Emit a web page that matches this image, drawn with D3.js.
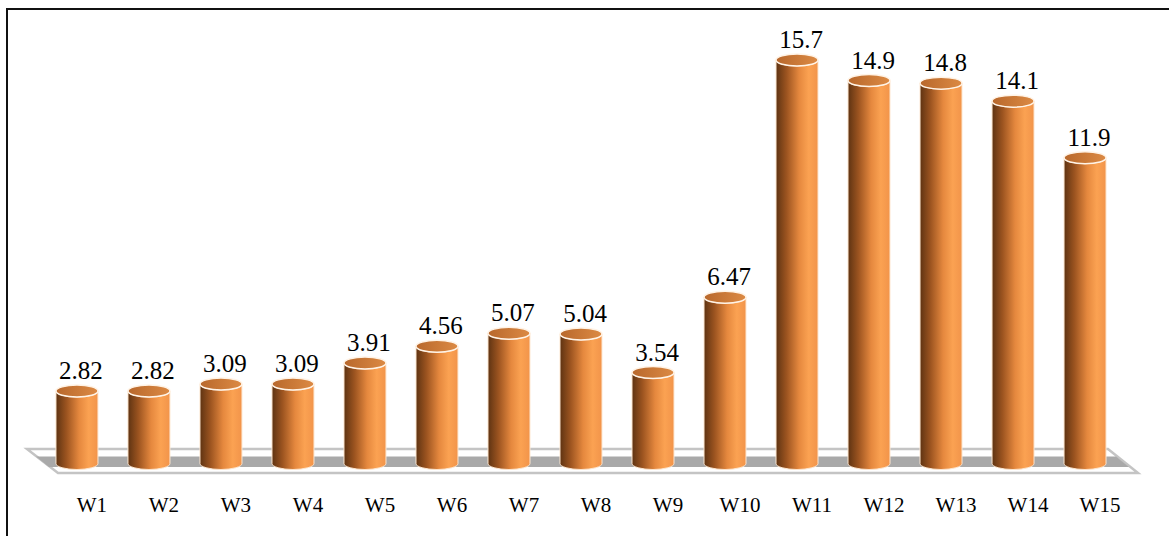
<!DOCTYPE html>
<html>
<head>
<meta charset="utf-8">
<script src="https://cdn.jsdelivr.net/npm/d3@7"></script>
<style>
  body { margin: 0; background: #fff; }
  svg { display: block; }
</style>
</head>
<body>
<script>
var width = 1169,
    height = 536;

// data
var weeks = ["W1", "W2", "W3", "W4", "W5", "W6", "W7", "W8", "W9", "W10", "W11", "W12", "W13", "W14", "W15"];
var values = [2.82, 2.82, 3.09, 3.09, 3.91, 4.56, 5.07, 5.04, 3.54, 6.47, 15.7, 14.9, 14.8, 14.1, 11.9];
var labels = ["2.82", "2.82", "3.09", "3.09", "3.91", "4.56", "5.07", "5.04", "3.54", "6.47", "15.7", "14.9", "14.8", "14.1", "11.9"];

var svg = d3.select("body").append("svg")
    .attr("width", width)
    .attr("height", height);

var x = d3.scaleBand()
    .domain(weeks)
    .range([41, 41 + 72 * 15])
    .paddingInner(0.417)
    .paddingOuter(0.208);

var y = d3.scaleLinear()
    .domain([0, 16])
    .range([463.5, 463.5 - 16 * 25.7]);

var bw = x.bandwidth(),
    rx = bw / 2,
    ry = 6;

var defs = svg.append("defs");
var grad = defs.append("linearGradient")
    .attr("id", "cyl")
    .attr("x1", "0%").attr("x2", "100%").attr("y1", "0%").attr("y2", "0%");
grad.append("stop").attr("offset", "0%").attr("stop-color", "#5e3312");
grad.append("stop").attr("offset", "25%").attr("stop-color", "#9c5420");
grad.append("stop").attr("offset", "55%").attr("stop-color", "#e5883e");
grad.append("stop").attr("offset", "78%").attr("stop-color", "#fba252");
grad.append("stop").attr("offset", "100%").attr("stop-color", "#f2944a");

var topGrad = defs.append("linearGradient")
    .attr("id", "cap")
    .attr("x1", "0%").attr("x2", "100%").attr("y1", "0%").attr("y2", "0%");
topGrad.append("stop").attr("offset", "0%").attr("stop-color", "#b8682c");
topGrad.append("stop").attr("offset", "100%").attr("stop-color", "#dc8a44");

// frame
svg.append("rect")
    .attr("x", 7)
    .attr("y", 9)
    .attr("width", width + 20)
    .attr("height", height + 20)
    .attr("fill", "none")
    .attr("stroke", "#111")
    .attr("stroke-width", 2);

// floor slab
svg.append("path")
    .attr("d", "M27 449 L1108 449 L1138 473 L58 473 Z")
    .attr("fill", "#fff")
    .attr("stroke", "#c4c4c4")
    .attr("stroke-width", 2.5);
svg.append("path")
    .attr("d", "M36 456.5 L1116 456.5 L1129 467 L49 467 Z")
    .attr("fill", "#a9a9a9");

var bars = svg.append("g")
    .attr("class", "bars")
    .selectAll("g")
    .data(weeks)
    .enter().append("g");

bars.append("path")
    .attr("d", function (d, i) {
        var left = x(d), right = x(d) + bw;
        var top = y(values[i]), bot = y(0);
        var p = "M" + left + " " + top;
        p += " L" + left + " " + bot;
        p += " A" + rx + " " + ry + " 0 0 0 " + right + " " + bot;
        p += " L" + right + " " + top;
        p += " A" + rx + " " + ry + " 0 0 1 " + left + " " + top;
        return p + " Z";
    })
    .attr("fill", "url(#cyl)")
    .attr("stroke", "#fde6cf")
    .attr("stroke-width", 1);

bars.append("ellipse")
    .attr("cx", function (d) { return x(d) + rx; })
    .attr("cy", function (d, i) { return y(values[i]); })
    .attr("rx", rx)
    .attr("ry", ry)
    .attr("fill", "url(#cap)")
    .attr("stroke", "#fff3e6")
    .attr("stroke-width", 1.5);

bars.append("text")
    .attr("x", function (d) { return x(d) + rx + 4; })
    .attr("y", function (d, i) { return y(values[i]) - 12; })
    .attr("text-anchor", "middle")
    .attr("font-family", "'Liberation Serif', 'Times New Roman', serif")
    .attr("font-size", 25)
    .attr("fill", "#000")
    .text(function (d, i) { return labels[i]; });

// category labels
svg.append("g")
    .selectAll("text")
    .data(weeks)
    .enter().append("text")
    .attr("x", function (d) { return x(d) + rx + 15; })
    .attr("y", 512)
    .attr("text-anchor", "middle")
    .attr("font-family", "'Liberation Serif', 'Times New Roman', serif")
    .attr("font-size", 21)
    .attr("fill", "#000")
    .text(function (d) { return d; });
</script>
</body>
</html>
